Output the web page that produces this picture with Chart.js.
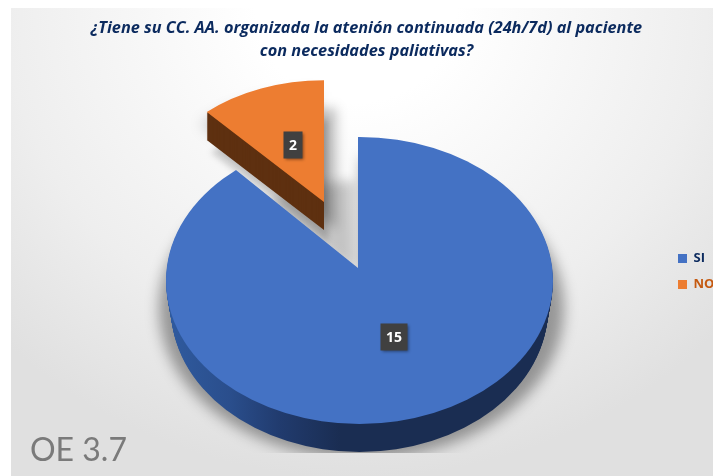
<!DOCTYPE html>
<html>
<head>
<meta charset="utf-8">
<style>
  html, body { margin: 0; padding: 0; background: #fff; overflow: hidden; }
  #wrap { position: absolute; left: 0; top: 0; width: 713px; height: 476px; }
  #bg { position: absolute; left: 11px; top: 8px; width: 702px; height: 468px;
        background: radial-gradient(ellipse 500px 470px at 345px 0px, #ffffff 20%, #eeeeee 70%, #e0e0e0 100%); }
  canvas { position: absolute; left: 0; top: 0; }
  #code { position: absolute; left: 30px; top: 429px; font: 32px Lato, sans-serif; color: #7a7a7a; }
</style>
<script src="https://cdn.jsdelivr.net/npm/chart.js@4"></script>
</head>
<body>
<div id="wrap">
  <div id="bg"></div>
  <canvas id="chart" width="713" height="476"></canvas>
  <div id="code">OE 3.7</div>
</div>
<script>
const titleLines = [
  "¿Tiene su CC. AA. organizada la atenión continuada (24h/7d) al paciente",
  "con necesidades paliativas?",
];
const categories = ["SI", "NO"];
const values = [15, 2];
const sliceColors = ["#4472c4", "#ed7d31"];
const legendTextColors = ["#0b2a5e", "#c55a11"];

// where the 3D look is placed on the page
const DEPTH = 28;
const blueApex = { x: 358, y: 268, squash: 0.732 };
const blueRim = { x: 359.5, y: 280.5, rx: 193.5, ry: 143.5 };
const orangeApex = { x: 324, y: 202, r: 174, squash: 0.7 };

// put the arc element's own centre at (x, y), scaled to the size we want
function place(ctx, el, x, y, r, squash) {
  const s = r / el.outerRadius;
  ctx.translate(x, y);
  ctx.scale(s, s * squash);
  ctx.translate(-el.x, -el.y);
}

function drawArc(ctx, el, fill) {
  const saved = el.options;
  el.options = Object.assign({}, saved, { backgroundColor: fill });
  el.draw(ctx);
  el.options = saved;
}

function clipRim(ctx, d, shrink) {
  ctx.beginPath();
  ctx.ellipse(blueRim.x, blueRim.y + d, blueRim.rx - shrink, blueRim.ry, 0, 0, Math.PI * 2);
  ctx.clip();
}

function softCopy(ctx, el, x, y, r, squash, blur, fill) {
  ctx.save();
  ctx.filter = "blur(" + blur + "px)";
  place(ctx, el, x, y, r, squash);
  drawArc(ctx, el, fill);
  ctx.restore();
}

const pie3d = {
  id: "pie3d",
  afterLayout(chart) {
    // legend sits on the right edge, NO runs off the page like in the picture
    const legend = chart.legend;
    legend.left = 665;
    legend.right = 760;
    legend.top = 239;
    legend.bottom = 320;
  },
  beforeDatasetDraw(chart) {
    const ctx = chart.ctx;
    const [blue, orange] = chart.getDatasetMeta(0).data;

    // soft shadow under the big slice, cut off at the bottom of the plot
    ctx.save();
    ctx.beginPath();
    ctx.rect(0, 0, 713, 453);
    ctx.clip();
    softCopy(ctx, blue, blueRim.x + 2, blueRim.y + 28, blueRim.rx + 9, blueRim.ry / blueRim.rx, 7, "rgba(0,0,0,0.36)");
    ctx.restore();

    // shadows of the pulled out slice, they fill the gap
    const o = orangeApex;
    softCopy(ctx, orange, o.x + 12, o.y + DEPTH, o.r, o.squash, 6, "rgba(0,0,0,0.25)");
    softCopy(ctx, orange, o.x + 4, o.y + DEPTH + 12, o.r, o.squash, 3, "rgba(0,0,0,0.18)");
    softCopy(ctx, orange, blueApex.x - 4, blueApex.y + 4, o.r * 0.75, o.squash, 6, "rgba(0,0,0,0.2)");
    softCopy(ctx, orange, o.x - 6, o.y + 12, o.r, o.squash, 7, "rgba(0,0,0,0.2)");

    // side wall of the big slice: stamp it downwards
    const s = (blueRim.rx * 1.3) / blue.outerRadius;
    const wall = ctx.createLinearGradient(blue.x + (170 - blueApex.x) / s, 0, blue.x + (553 - blueApex.x) / s, 0);
    wall.addColorStop(0, "#2f5a9e");
    wall.addColorStop(0.157, "#2a4e8c");
    wall.addColorStop(0.287, "#213b6e");
    wall.addColorStop(0.444, "#1a2d52");
    wall.addColorStop(1, "#1a2d52");
    for (let d = DEPTH; d > 0; d--) {
      ctx.save();
      clipRim(ctx, d, (5 * d) / DEPTH);
      place(ctx, blue, blueApex.x, blueApex.y + d, blueRim.rx * 1.3, blueApex.squash);
      drawArc(ctx, blue, wall);
      ctx.restore();
    }

    // top face
    ctx.save();
    clipRim(ctx, 0, 0);
    place(ctx, blue, blueApex.x, blueApex.y, blueRim.rx * 1.3, blueApex.squash);
    blue.draw(ctx);
    ctx.restore();

    // pulled out slice, same thing
    for (let d = DEPTH; d > 0; d--) {
      ctx.save();
      place(ctx, orange, o.x, o.y + d, o.r, o.squash);
      drawArc(ctx, orange, "#5e3010");
      ctx.restore();
    }
    ctx.save();
    place(ctx, orange, o.x, o.y, o.r, o.squash);
    orange.draw(ctx);
    ctx.restore();

    return false; // already drawn
  },
  afterDatasetsDraw(chart) {
    const ctx = chart.ctx;
    const [blue, orange] = chart.getDatasetMeta(0).data;
    const spots = [
      { el: blue, x: blueApex.x + 1, y: blueApex.y, r: blueRim.rx, squash: blueApex.squash, nudge: 3 },
      { el: orange, x: orangeApex.x, y: orangeApex.y, r: orangeApex.r, squash: orangeApex.squash, nudge: 0 },
    ];
    ctx.save();
    ctx.font = "bold 14px 'Open Sans', sans-serif";
    ctx.textAlign = "center";
    ctx.textBaseline = "middle";
    spots.forEach((spot, i) => {
      const c = spot.el.getCenterPoint();
      const s = spot.r / spot.el.outerRadius;
      const x = Math.round(spot.x + (c.x - spot.el.x) * s);
      const y = Math.round(spot.y + (c.y - spot.el.y) * s * spot.squash + spot.nudge);
      const text = String(values[i]);
      const w = Math.round(ctx.measureText(text).width) + 11;
      const h = 27;
      ctx.save();
      ctx.shadowColor = "rgba(0,0,0,0.45)";
      ctx.shadowBlur = 3;
      ctx.shadowOffsetX = 1;
      ctx.shadowOffsetY = 1;
      ctx.fillStyle = "#404040";
      ctx.fillRect(x - w / 2, y - h / 2, w, h);
      ctx.restore();
      ctx.fillStyle = "#ffffff";
      ctx.fillText(text, x, y + 1);
    });
    ctx.restore();
  },
};

const canvas = document.getElementById("chart");
new Chart(canvas, {
  type: "pie",
  data: {
    labels: categories,
    datasets: [
      {
        data: values,
        backgroundColor: sliceColors,
        borderWidth: 0,
      },
    ],
  },
  options: {
    responsive: false,
    animation: false,
    layout: { padding: { left: 20 } },
    plugins: {
      title: {
        display: true,
        text: titleLines,
        color: "#0b2a5e",
        font: { family: "'Open Sans', sans-serif", size: 16.3, weight: "bold", style: "italic", lineHeight: 1.42 },
        padding: { top: 17, bottom: 10 },
      },
      legend: {
        position: "right",
        align: "start",
        labels: {
          boxWidth: 9,
          boxHeight: 9,
          padding: 13,
          font: { family: "'Open Sans', sans-serif", size: 13, weight: "bold" },
          generateLabels(chart) {
            return Chart.overrides.pie.plugins.legend.labels.generateLabels(chart).map((item, i) => {
              item.fontColor = legendTextColors[i];
              return item;
            });
          },
        },
      },
      tooltip: { enabled: false },
    },
  },
  plugins: [pie3d],
});
</script>
</body>
</html>
